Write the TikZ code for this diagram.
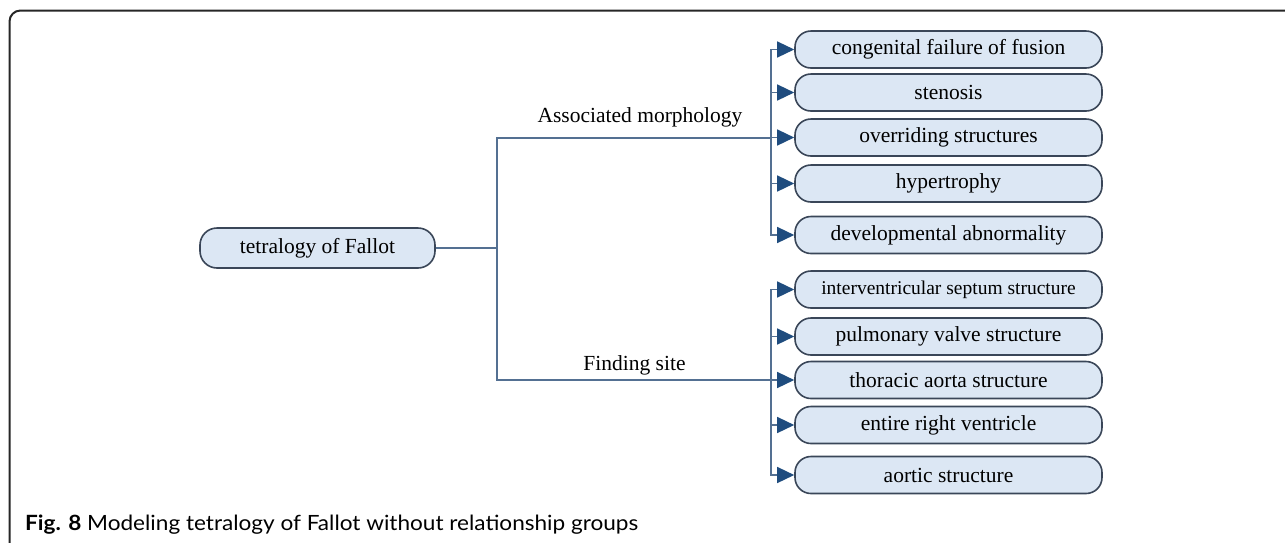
\documentclass[tikz,border=0pt]{standalone}
\usepackage{fontspec}
\setmainfont{Liberation Serif}
\newfontfamily\capfont{Lato}
\usetikzlibrary{arrows.meta}
\definecolor{boxfill}{RGB}{220,231,244}
\definecolor{boxdraw}{RGB}{58,70,88}
\definecolor{linecol}{RGB}{84,112,146}
\definecolor{tipcol}{RGB}{31,76,126}
\tikzset{
  conbox/.style={draw=boxdraw, line width=1.6pt, fill=boxfill, rounded corners=16pt,
    minimum width=307pt, minimum height=37pt, inner sep=0pt, font=\fontsize{21.5}{24}\selectfont},
  rootbox/.style={conbox, minimum width=235pt, minimum height=40pt, rounded corners=17pt},
  conn/.style={draw=linecol, line width=1.4pt},
  arr/.style={conn, -{Triangle[length=17pt, width=16pt, fill=tipcol, color=tipcol]}},
  lbl/.style={anchor=base, inner sep=0pt, font=\fontsize{21.5}{24}\selectfont}
}
\begin{document}
\begin{tikzpicture}[x=1pt, y=-1pt]
\useasboundingbox (0,0) rectangle (1285,542);
\clip (0,0) rectangle (1285,542);
% frame
\draw[line width=2pt, rounded corners=11pt, color=black!85] (9.5,560) -- (9.5,10.5) -- (1300,10.5);
% root
\node[rootbox] (root) at (317.5,248) {tetralogy of Fallot};
% target boxes
\node[conbox] (b1) at (948.5,49.5) {congenital failure of fusion};
\node[conbox] (b2) at (948.5,92.5) {stenosis};
\node[conbox] (b3) at (948.5,137.5) {overriding structures};
\node[conbox] (b4) at (948.5,183.5) {hypertrophy};
\node[conbox] (b5) at (948.5,235) {developmental abnormality};
\node[conbox, font=\fontsize{19.5}{22}\selectfont] (b6) at (948.5,289.5) {interventricular septum structure};
\node[conbox] (b7) at (948.5,336.5) {pulmonary valve structure};
\node[conbox] (b8) at (948.5,380) {thoracic aorta structure};
\node[conbox] (b9) at (948.5,425) {entire right ventricle};
\node[conbox] (b10) at (948.5,475) {aortic structure};
% junctions
\coordinate (split) at (497,248);
\coordinate (jA) at (771,138);
\coordinate (jB) at (771,380);
\draw[conn] (root.east) -- (split);
\draw[conn] (split) |- (jA);
\draw[conn] (split) |- (jB);
\foreach \b in {b1,b2,b3,b4,b5} { \draw[arr] (jA) |- (\b.west); }
\foreach \b in {b6,b7,b8,b9,b10} { \draw[arr] (jB) |- (\b.west); }
% labels
\node[lbl] (lA) at (640,122) {Associated morphology};
\node[lbl] (lB) at (634.5,370) {Finding site};
% caption
\node[anchor=base west, inner sep=0pt] (cap) at (25,530)
  {\resizebox{613pt}{\height}{\capfont\fontsize{21}{24}\selectfont\textbf{Fig. 8} Modeling tetralogy of Fallot without relationship groups}};
\end{tikzpicture}
\end{document}
